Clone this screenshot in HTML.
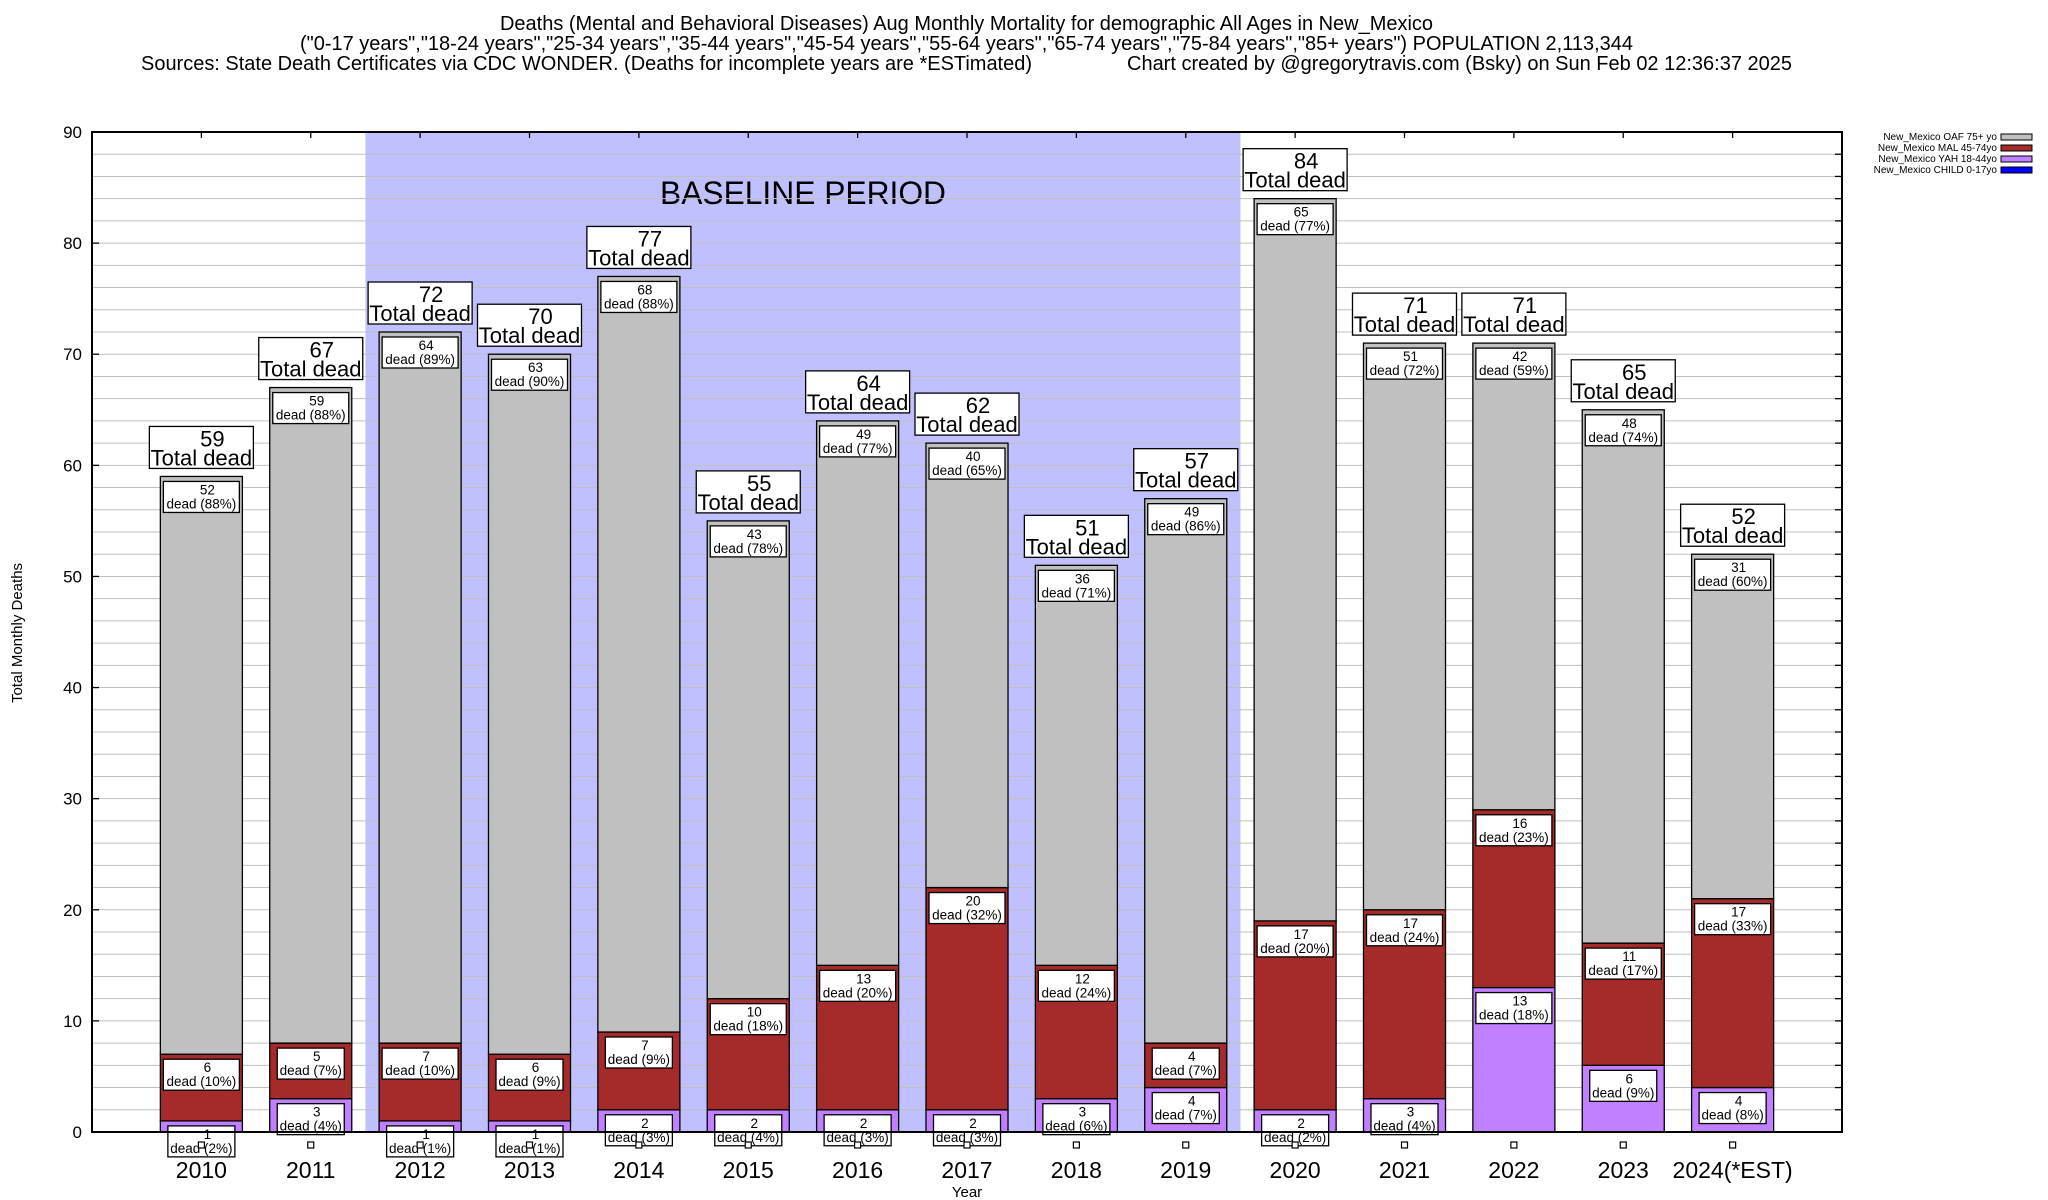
<!DOCTYPE html>
<html><head><meta charset="utf-8"><style>
html,body{margin:0;padding:0;background:#fff;}
svg{display:block;font-family:"Liberation Sans",sans-serif;}
</style></head><body>
<svg id="chart" width="2048" height="1200" viewBox="0 0 2048 1200" xmlns="http://www.w3.org/2000/svg">
<rect width="2048" height="1200" fill="#fff"/>
<g font-size="20" text-anchor="start">
<text x="500" y="30" textLength="933" lengthAdjust="spacingAndGlyphs">Deaths (Mental and Behavioral Diseases) Aug Monthly Mortality for demographic All Ages in New_Mexico</text>
<text x="300" y="50" textLength="1333" lengthAdjust="spacingAndGlyphs">("0-17 years","18-24 years","25-34 years","35-44 years","45-54 years","55-64 years","65-74 years","75-84 years","85+ years") POPULATION 2,113,344</text>
<text x="141" y="70" textLength="891" lengthAdjust="spacingAndGlyphs">Sources: State Death Certificates via CDC WONDER. (Deaths for incomplete years are *ESTimated)</text>
<text x="1127" y="70" textLength="665" lengthAdjust="spacingAndGlyphs">Chart created by @gregorytravis.com (Bsky) on Sun Feb 02 12:36:37 2025</text>
</g>
<g id="bg"></g>
<g id="grid"></g>
<g id="bars"></g>
<g id="labels"></g>
<g id="axes"></g>
<g font-size="10" text-anchor="end">
<text x="1997" y="140">New_Mexico OAF 75+ yo</text>
<rect x="2001" y="134" width="31" height="6" fill="#c0c0c0" stroke="#000"/>
<text x="1997" y="151">New_Mexico MAL 45-74yo</text>
<rect x="2001" y="145" width="31" height="6" fill="#a52a2a" stroke="#000"/>
<text x="1997" y="162">New_Mexico YAH 18-44yo</text>
<rect x="2001" y="156" width="31" height="6" fill="#c080ff" stroke="#000"/>
<text x="1997" y="173">New_Mexico CHILD 0-17yo</text>
<rect x="2001" y="167" width="31" height="6" fill="#0000ff" stroke="#000"/>
</g>
<text x="0" y="0" font-size="15" text-anchor="middle" transform="translate(22,633) rotate(-90)">Total Monthly Deaths</text>
<text x="967" y="1197" font-size="15" text-anchor="middle">Year</text>
</svg>
<script>
const categories = ["2010","2011","2012","2013","2014","2015","2016","2017","2018","2019","2020","2021","2022","2023","2024(*EST)"];
const oafValues = [52,59,64,63,68,43,49,40,36,49,65,51,42,48,31];
const malValues = [6,5,7,6,7,10,13,20,12,4,17,17,16,11,17];
const yahValues = [1,3,1,1,2,2,2,2,3,4,2,3,13,6,4];
const childValues = [0,0,0,0,0,0,0,0,0,0,0,0,0,0,0];
const yTicks = [0,10,20,30,40,50,60,70,80,90];
const baselineStart = "2012";
const baselineEnd = "2019";

const NS = "http://www.w3.org/2000/svg";
const L = 92, R = 1842, T = 132, B = 1132, YMAX = 90;
const slot = (R - L) / (categories.length + 1);
const xs = i => L + (i + 1) * slot;
const ys = v => B - v / YMAX * (B - T);
const bw = slot * 0.75;
function mk(tag, attrs, parent) {
  const e = document.createElementNS(NS, tag);
  for (const k in attrs) e.setAttribute(k, attrs[k]);
  parent.appendChild(e);
  return e;
}
const bg = document.getElementById('bg'), grid = document.getElementById('grid'),
  bars = document.getElementById('bars'), labels = document.getElementById('labels'), axes = document.getElementById('axes');

const bs = categories.indexOf(baselineStart), be = categories.indexOf(baselineEnd);
const reg = mk('rect', {x: xs(bs) - slot / 2, y: T, width: (be - bs + 1) * slot, height: B - T, fill: '#c0c0ff'}, bg);


const bt = mk('text', {x: 660, y: 204, 'font-size': 32, 'text-anchor': 'start', textLength: 286, lengthAdjust: 'spacingAndGlyphs'}, bg);
bt.textContent = 'BASELINE PERIOD';



for (let v = 2; v < YMAX; v += 2) {
  const g = mk('line', {x1: L, x2: R, y1: ys(v), y2: ys(v), stroke: '#c0c0c0', 'stroke-width': 1}, grid);
  
  
}

function segLabel(cx, top, val, total) {
  const pct = Math.round(val / total * 100);
  const w = pct >= 10 ? 76 : 67;
  const g = mk('g', {}, labels);
  
  
  mk('rect', {x: cx - w / 2, y: top + 5, width: w, height: 31, fill: '#fff', stroke: '#000', 'stroke-width': 1.3}, g);
  const t1 = mk('text', {x: cx + 6, y: top + 18, 'font-size': 13.5, 'text-anchor': 'middle'}, g);
  t1.textContent = val;
  const t2 = mk('text', {x: cx, y: top + 32, 'font-size': 13.5, 'text-anchor': 'middle'}, g);
  t2.textContent = 'dead (' + pct + '%)';
}

categories.forEach((c, i) => {
  const cx = xs(i);
  const total = oafValues[i] + malValues[i] + yahValues[i] + childValues[i];
  const segs = [[childValues[i], '#0000ff', 'child'], [yahValues[i], '#c080ff', 'yah'], [malValues[i], '#a52a2a', 'mal'], [oafValues[i], '#c0c0c0', 'oaf']];
  let base = 0;
  segs.forEach(s => {
    if (s[0] > 0) {
      const r = mk('rect', {x: cx - bw / 2, y: ys(base + s[0]), width: bw, height: ys(base) - ys(base + s[0]), fill: s[1], stroke: '#000', 'stroke-width': 1.3}, bars);
      
      
    }
    base += s[0];
  });
  base = 0;
  segs.forEach(s => {
    if (s[0] > 0) segLabel(cx, ys(base + s[0]), s[0], total);
    base += s[0];
  });
  const sq = mk('rect', {x: cx - 3, y: 1142, width: 6, height: 6, fill: '#fff', stroke: '#000', 'stroke-width': 1.2}, labels);
  
  
  const tg = mk('g', {}, labels);
  
  
  const top = ys(total);
  mk('rect', {x: cx - 52, y: top - 50, width: 104, height: 42, fill: '#fff', stroke: '#000', 'stroke-width': 1.3}, tg);
  const n = mk('text', {x: cx + 11, y: top - 30, 'font-size': 22, 'text-anchor': 'middle'}, tg);
  n.textContent = total;
  const td = mk('text', {x: cx, y: top - 11, 'font-size': 22, 'text-anchor': 'middle'}, tg);
  td.textContent = 'Total dead';
  const xl = mk('text', {x: cx, y: 1178, 'font-size': 23, 'text-anchor': 'middle'}, axes);
  xl.textContent = c;
  
  
  mk('line', {x1: cx, x2: cx, y1: T, y2: T + 6, stroke: '#000', 'stroke-width': 1.3}, axes);
});

yTicks.forEach(v => {
  const t = mk('text', {x: 82, y: ys(v) + 6, 'font-size': 17, 'text-anchor': 'end'}, axes);
  t.textContent = v;
  
  
  mk('line', {x1: L, x2: L + 7, y1: ys(v), y2: ys(v), stroke: '#000', 'stroke-width': 1.3}, axes);
});
for (let v = 2; v < YMAX; v += 2) {
  mk('line', {x1: R - 7, x2: R, y1: ys(v), y2: ys(v), stroke: '#000', 'stroke-width': 1.3}, axes);
}
const frame = mk('rect', {x: L, y: T, width: R - L, height: B - T, fill: 'none', stroke: '#000', 'stroke-width': 2}, axes);


</script>
</body></html>
